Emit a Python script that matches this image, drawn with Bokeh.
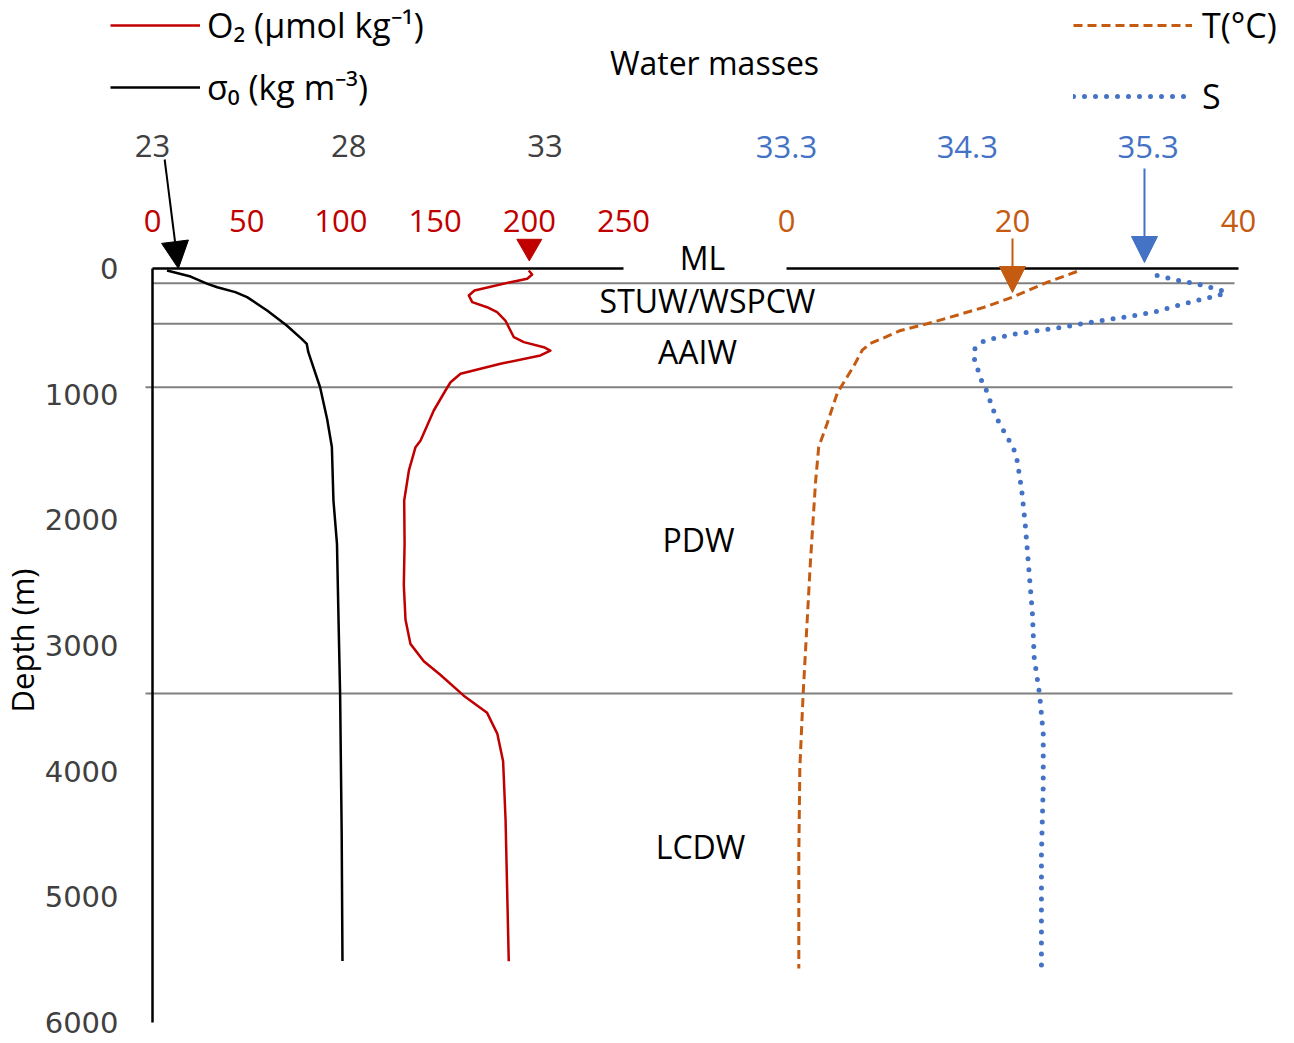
from math import pi
from bokeh.plotting import figure
from bokeh.models import (Range1d, ColumnDataSource, LabelSet,
                          Legend, LegendItem, Arrow, NormalHead)
from bokeh.core.properties import value
from bokeh.embed import file_html
from bokeh.resources import INLINE

# ---------------- data ----------------
sig_depth = [16, 64, 122, 149, 188, 228, 334, 454, 560, 600, 666, 945, 1200, 1420,
             1846, 2191, 2800, 3390, 4500, 5510]
sig_val = [23.37, 23.97, 24.40, 24.65, 25.11, 25.41, 25.92, 26.42, 26.80, 26.93, 26.97,
           27.27, 27.45, 27.57, 27.61, 27.70, 27.74, 27.78, 27.82, 27.84]

o2_depth = [16, 48, 82, 109, 175, 215, 268, 308, 348, 414, 547, 586, 626, 653, 692, 758,
            838, 905, 971, 1130, 1369, 1422, 1607, 1846, 2192, 2521, 2796, 2987, 3125,
            3235, 3399, 3536, 3701, 3921, 4387, 5512]
o2_val = [199.7, 201.5, 198.9, 190.0, 170.9, 167.9, 169.7, 177.6, 182.9, 187.3, 191.8,
          197.1, 207.7, 211.2, 205.9, 184.7, 163.5, 158.2, 155.5, 149.3, 142.3, 139.6,
          136.1, 133.6, 133.8, 133.4, 134.3, 136.9, 144.0, 152.9, 165.2, 177.6, 183.0,
          186.1, 187.4, 189.1]

t_depth = [24, 109, 228, 308, 387, 440, 493, 545, 597, 650, 769, 990, 1238, 1420, 1700,
           2330, 2900, 3390, 3975, 4660, 5570]
t_val = [25.7, 23.1, 20.0, 17.5, 14.5, 12.45, 10.1, 8.8, 7.4, 6.7, 6.0, 4.5, 3.58, 2.85,
         2.57, 2.12, 1.77, 1.47, 1.18, 1.09, 1.09]

s_depth = [56, 95, 133, 185, 215, 255, 300, 348, 380, 406, 435, 467, 493, 520, 555, 578,
           642, 727, 812, 897, 984, 1114, 1210, 1289, 1391, 1478, 1753, 2028, 2384, 2741,
           3097, 3391, 3701, 4112, 4661, 5567]
s_val = [35.35, 35.47, 35.60, 35.73, 35.69, 35.57, 35.45, 35.33, 35.20, 35.08, 34.95,
         34.83, 34.70, 34.57, 34.45, 34.39, 34.34, 34.34, 34.36, 34.38, 34.41, 34.44,
         34.47, 34.50, 34.54, 34.57, 34.60, 34.62, 34.64, 34.66, 34.67, 34.70, 34.72,
         34.72, 34.71, 34.71]

sig_ticks = [23, 28, 33]
o2_ticks = [0, 50, 100, 150, 200, 250]
s_ticks = [33.3, 34.3, 35.3]
t_ticks = [0, 20, 40]
depth_ticks = [0, 1000, 2000, 3000, 4000, 5000, 6000]

water_masses = ["ML", "STUW/WSPCW", "AAIW", "PDW", "LCDW"]
boundary_depths = [117, 440, 945, 3382]

# axis limits of each panel
sig_lim = (23, 35)
o2_lim = (0, 250)
t_lim = (0, 40)
s_lim = (33.3, 35.8)
depth_max = 6000

# ---------------- layout helpers (page pixels) ----------------
W, H = 1292, 1040
Y0, Y1 = 268, 1022       # page y of depth 0 and depth 6000


def px(page_x):
    return page_x


def dep(page_y):
    return (page_y - Y0) * depth_max / (Y1 - Y0)


def rng(lo, hi, p0, p1):
    k = (hi - lo) / (p1 - p0)
    start = lo - p0 * k
    return Range1d(start, start + W * k)


FONT = "Open Sans"
RED, BLACK, ORANGE, BLUE, GREY = "#C00000", "black", "#C55A11", "#4472C4", "#808080"

p = figure(width=W, height=H, output_backend="svg", toolbar_location=None,
           x_range=Range1d(0, W), y_range=Range1d(dep(H), dep(0)),
           x_axis_location=None, y_axis_location=None,
           min_border=0, outline_line_color=None,
           background_fill_color="white", border_fill_color="white")
p.grid.visible = False

p.extra_x_ranges = {
    "o2": rng(*o2_lim, 152, 623),
    "sig": rng(*sig_lim, 152, 623),
    "t": rng(*t_lim, 786, 1238),
    "s": rng(*s_lim, 786, 1238),
}

# water-mass boundaries
p.segment(x0=[px(152), px(152), px(145), px(145)],
          x1=[px(1234), px(1232), px(1232), px(1232)],
          y0=boundary_depths, y1=boundary_depths, line_color=GREY, line_width=2)

# axis lines (depth-0 lines and vertical depth axis)
p.segment(x0=[o2_lim[0]], x1=[o2_lim[1]], y0=[0], y1=[0], x_range_name="o2",
          line_color=BLACK, line_width=2.5)
p.segment(x0=[t_lim[0]], x1=[t_lim[1]], y0=[0], y1=[0], x_range_name="t",
          line_color=BLACK, line_width=2.5)
p.segment(x0=[o2_lim[0]], x1=[o2_lim[0]], y0=[0], y1=[depth_max], x_range_name="o2",
          line_color=BLACK, line_width=2.5)

# profiles
r_o2 = p.line(o2_val, o2_depth, x_range_name="o2", line_color=RED, line_width=2.5,
              line_join="round")
r_sig = p.line(sig_val, sig_depth, x_range_name="sig", line_color=BLACK, line_width=2.5,
               line_join="round")
r_t = p.line(t_val, t_depth, x_range_name="t", line_color=ORANGE, line_width=3,
             line_dash="9 5")
r_s = p.line(s_val, s_depth, x_range_name="s", line_color=BLUE, line_width=5,
             line_dash="0 11", line_cap="round")


def labels(xs, ys, texts, size, color, align="center", baseline="alphabetic",
           rname="default", font=FONT, angle=0.0):
    src = ColumnDataSource(dict(x=xs, y=ys, text=texts))
    p.add_layout(LabelSet(x="x", y="y", text="text", source=src, x_range_name=rname,
                          text_align=align, text_baseline=baseline, angle=angle,
                          text_font=value(font), text_font_size=size, text_color=color))


# top tick labels
def tick_labels(vals, rname, color, base_page_y):
    labels(vals, [dep(base_page_y)] * len(vals), [f"{v:g}" for v in vals], "31px",
           color, rname=rname)


tick_labels(sig_ticks, "sig", "#404040", 156)
tick_labels(o2_ticks, "o2", RED, 231)
tick_labels(s_ticks, "s", BLUE, 157)
tick_labels(t_ticks, "t", ORANGE, 231)

# depth tick labels
labels([px(118)] * len(depth_ticks), depth_ticks, [str(d) for d in depth_ticks], "29px",
       "#404040", align="right", baseline="middle", font="DejaVu Sans")

# depth axis title
labels([px(33)], [dep(640)], ["Depth (m)"], "31px", BLACK, angle=pi / 2)

# water masses texts
wm_x = [702, 707, 697, 698, 700]
wm_base = [269, 312, 363, 551, 858]
labels([px(v) for v in wm_x], [dep(v) for v in wm_base], water_masses, "32px", BLACK)
labels([px(714)], [dep(74)], ["Water masses"], "32px", BLACK)

# pointer arrows
p.add_layout(Arrow(end=NormalHead(size=27, fill_color=BLACK, line_color=BLACK),
                   x_start=23.31, y_start=dep(159), x_end=23.66, y_end=dep(268),
                   x_range_name="sig", line_color=BLACK, line_width=2))
p.scatter(x=[200], y=[dep(246)], marker="inverted_triangle", size=25,
          x_range_name="o2", fill_color=RED, line_color=RED)
p.add_layout(Arrow(end=NormalHead(size=26, fill_color=ORANGE, line_color=ORANGE),
                   x_start=20, y_start=dep(238), x_end=20, y_end=dep(292),
                   x_range_name="t", line_color=ORANGE, line_width=2))
p.add_layout(Arrow(end=NormalHead(size=26, fill_color=BLUE, line_color=BLUE),
                   x_start=35.28, y_start=dep(168), x_end=35.28, y_end=dep(262),
                   x_range_name="s", line_color=BLUE, line_width=2))


# legends
def leg_vy(first_center_page, item_h, spacing, n):
    top = first_center_page - item_h / 2
    bottom = top + n * item_h + (n - 1) * spacing
    return H - bottom


IH = 46
leg_l = Legend(items=[LegendItem(label="O₂ (µmol kg⁻¹)", renderers=[r_o2]),
                      LegendItem(label="σ₀ (kg m⁻³)", renderers=[r_sig])],
               location=(px(110), leg_vy(25, IH, 16, 2)), glyph_width=90,
               glyph_height=IH, label_height=IH, label_standoff=7, spacing=16,
               padding=0, margin=0, border_line_color=None, background_fill_alpha=0,
               label_text_font=FONT, label_text_font_size="34px",
               label_text_color=BLACK)
leg_r = Legend(items=[LegendItem(label="T(°C)", renderers=[r_t]),
                      LegendItem(label="S", renderers=[r_s])],
               location=(px(1073), leg_vy(25, IH, 25, 2)), glyph_width=119,
               glyph_height=IH, label_height=IH, label_standoff=10, spacing=25,
               padding=0, margin=0, border_line_color=None, background_fill_alpha=0,
               label_text_font=FONT, label_text_font_size="34px",
               label_text_color=BLACK)
p.add_layout(leg_l)
p.add_layout(leg_r)

open("out.html", "w").write(file_html(p, INLINE))
